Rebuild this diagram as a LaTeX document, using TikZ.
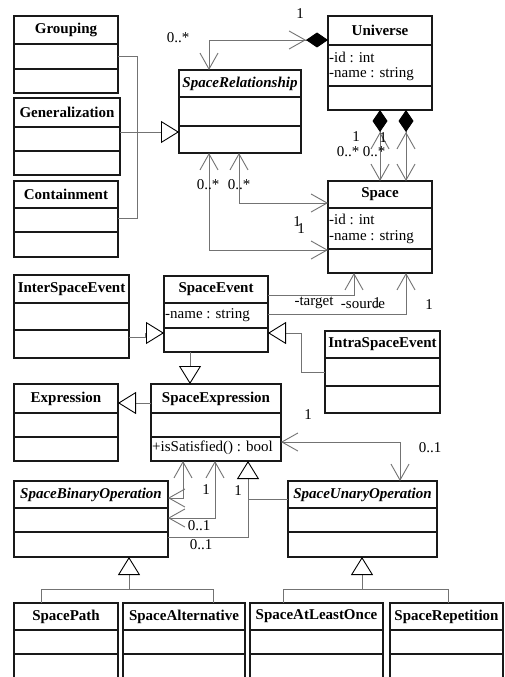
\documentclass[tikz,border=0pt]{standalone}
\usepackage{fontspec}
\setmainfont{Liberation Serif}
\usetikzlibrary{arrows.meta,fit}

\newcommand\umlsize{\fontsize{15}{18}\selectfont}

% #1 name, #2 left, #3 top, #4 right, #5 bottom, #6/#7 compartment lines,
% #8 extra title options, #9 class name
\newcommand\umlclass[9]{%
  \node[classbox, fit={(#2,#3) (#4,#5)}] (#1) {};
  \draw[classline] (#2,#6) -- (#4,#6) (#2,#7) -- (#4,#7);
  \node[ctitle, #8] at ({(#2+#4)/2},{(#3+#6)/2}) {#9};
}

\tikzset{
  classbox/.style={draw=black!90, line width=1.3pt, inner sep=0pt, outer sep=0pt},
  classline/.style={draw=black!90, line width=1.3pt},
  ctitle/.style={font=\umlsize\bfseries, inner sep=0pt},
  abstract/.style={font=\umlsize\bfseries\itshape},
  member/.style={font=\umlsize, anchor=west, inner sep=0pt},
  mult/.style={font=\umlsize, inner sep=0pt},
  conn/.style={draw=black!55, line width=0.9pt},
  inherit/.style={conn, -{Triangle[open,length=18pt,width=22pt,color=black]}},
  navend/.style={conn, -{Straight Barb[length=16pt,width=18pt]}},
  navboth/.style={conn, {Straight Barb[length=16pt,width=18pt]}-{Straight Barb[length=16pt,width=18pt]}},
  navcompend/.style={conn, {Straight Barb[length=16pt,width=18pt]}-{Straight Barb[length=16pt,width=18pt]Diamond[length=22pt,width=15pt,color=black,fill=black]}},
  compstart/.style={conn, {Diamond[length=22pt,width=15pt,color=black,fill=black]Straight Barb[length=16pt,width=18pt]}-{Straight Barb[length=16pt,width=18pt]}},
}

\begin{document}
\begin{tikzpicture}[x=1pt,y=-1pt]
\useasboundingbox (0,0) rectangle (505,677);
\clip (0,0) rectangle (505,677);
\fill[white] (0,0) rectangle (505,677);

% classes
\umlclass{grouping}{14}{16}{118}{93}{44}{69}{}{Grouping}
\umlclass{generalization}{14}{98}{120}{175}{127}{151}{}{Generalization}
\umlclass{containment}{14}{181}{118}{257}{208}{232}{}{Containment}
\umlclass{spacerel}{179}{70}{301}{153}{97}{126}{abstract}{SpaceRelationship}
\umlclass{universe}{328}{16}{432}{110}{45}{86}{}{Universe}
\umlclass{space}{328}{181}{432}{273}{208}{249}{}{Space}
\umlclass{interevent}{14}{275}{129}{358}{303}{330}{}{InterSpaceEvent}
\umlclass{spaceevent}{164}{276}{268}{352}{303}{328}{}{SpaceEvent}
\umlclass{intraevent}{325}{331}{440}{413}{358}{386}{}{IntraSpaceEvent}
\umlclass{expression}{14}{384}{118}{461}{413}{437}{}{Expression}
\umlclass{spaceexpr}{151}{384}{281}{461}{413}{437}{}{SpaceExpression}
\umlclass{binop}{14}{481}{168}{557}{508}{532}{abstract}{SpaceBinaryOperation}
\umlclass{unop}{288}{481}{437}{557}{508}{532}{abstract}{SpaceUnaryOperation}
\umlclass{spacepath}{14}{603}{118}{700}{630}{654}{}{SpacePath}
\umlclass{spacealt}{123}{603}{245}{700}{630}{654}{}{SpaceAlternative}
\umlclass{atleast}{250}{603}{383}{700}{630}{654}{}{SpaceAtLeastOnce}
\umlclass{repetition}{390}{603}{503}{700}{630}{654}{}{SpaceRepetition}

% attributes and operations
\node[member] (uid) at (329,57) {-id : int};
\node[member] (uname) at (329,74) {-name : string};
\node[member] (sid) at (329,219) {-id : int};
\node[member] (sname) at (329,237) {-name : string};
\node[member] (ename) at (165,315) {-name : string};
\node[member] (esat) at (152,448) {+isSatisfied() : bool};

% generalizations
\coordinate (relj) at (137,132);
\draw[conn] (grouping.east |- 0,56) -| (relj);
\draw[conn] (containment.east |- 0,218) -| (relj);
\draw[inherit] (generalization.east |- 0,132) -- (spacerel.west |- 0,132);

\draw[inherit] (interevent.east |- 0,337) -| (145,333) -- (spaceevent.west |- 0,333);
\draw[inherit] (intraevent.west |- 0,372) -| (301,333) -- (spaceevent.east |- 0,333);
\draw[inherit] (spaceevent.south -| 190,0) -- (spaceexpr.north -| 190,0);
\draw[inherit] (spaceexpr.west |- 0,403) -- (expression.east |- 0,403);

\coordinate (opj) at (248,499);
\draw[inherit] (binop.east |- 0,537) -| (spaceexpr.south -| 248,0);
\draw[conn] (unop.west |- 0,499) -- (opj);

\coordinate (binj) at (129,589);
\draw[inherit] (binj) -- (binop.south -| 129,0);
\draw[conn] (spacepath.north -| 41,0) -- (41,589) -- (213,589) -- (spacealt.north -| 213,0);

\coordinate (unj) at (362,589);
\draw[inherit] (unj) -- (unop.south -| 362,0);
\draw[conn] (atleast.north -| 283,0) -- (283,589) -- (448,589) -- (repetition.north -| 448,0);

% associations and compositions
\draw[navcompend] (spacerel.north -| 209,0) |- (universe.west |- 0,40);
\draw[compstart] (universe.south -| 380,0) -- (space.north -| 380,0);
\draw[compstart] (universe.south -| 406,0) -- (space.north -| 406,0);
\draw[navboth] (spacerel.south -| 239,0) |- (space.west |- 0,203);
\draw[navboth] (spacerel.south -| 209,0) |- (space.west |- 0,250);
\draw[navend] (spaceevent.east |- 0,295) -| (space.south -| 354,0);
\draw[navend] (spaceevent.east |- 0,314) -| (space.south -| 406,0);
\draw[navboth] (spaceexpr.east |- 0,442) -| (unop.north -| 400,0);
\draw[navboth] (spaceexpr.south -| 183,0) |- (binop.east |- 0,498);
\draw[navboth] (spaceexpr.south -| 215,0) |- (binop.east |- 0,518);

% multiplicities and role names
\node[mult] (m1) at (178,38) {0..*};
\node[mult] (m2) at (300,14) {1};
\node[mult] (m3) at (356,137) {1};
\node[mult] (m4) at (383,138) {1};
\node[mult] (m5) at (348,152) {0..*};
\node[mult] (m6) at (374,152) {0..*};
\node[mult] (m7) at (208,185) {0..*};
\node[mult] (m8) at (239,185) {0..*};
\node[mult] (m9) at (297,222) {1};
\node[mult] (m10) at (301,229) {1};
\node[mult] (r1) at (314,303) {-target};
\node[mult] (r2) at (363,305) {-source};
\node[mult] (m11) at (377,303) {1};
\node[mult] (m12) at (429,305) {1};
\node[mult] (m13) at (308,415) {1};
\node[mult] (m14) at (430,448) {0..1};
\node[mult] (m15) at (206,490) {1};
\node[mult] (m16) at (238,491) {1};
\node[mult] (m17) at (199,526) {0..1};
\node[mult] (m18) at (201,545) {0..1};
\end{tikzpicture}
\end{document}
